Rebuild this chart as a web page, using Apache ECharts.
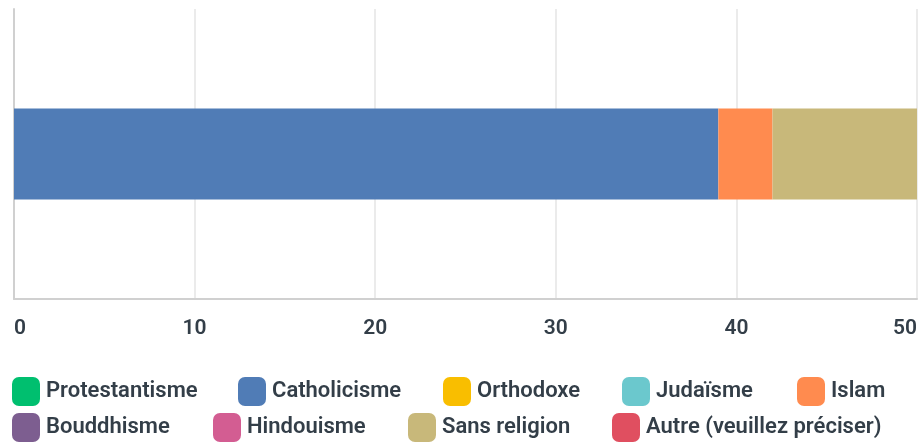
<!DOCTYPE html>
<html>
<head>
<meta charset="utf-8">
<script src="https://cdn.jsdelivr.net/npm/echarts@6/dist/echarts.min.js"></script>
<style>
html, body { margin: 0; padding: 0; background: #fff; }
#chart { width: 923px; height: 443px; }
</style>
</head>
<body>
<div id="chart"></div>
<script>
// une seule barre empilée
const categories = ['']
const seriesNames = ['Protestantisme', 'Catholicisme', 'Orthodoxe', 'Judaïsme', 'Islam',
    'Bouddhisme', 'Hindouisme', 'Sans religion', 'Autre (veuillez préciser)']
const seriesValues = [0, 39, 0, 0, 3, 0, 0, 8, 0]
const seriesColors = ['#00bf6f', '#507cb6', '#f9be00', '#6bc8cd', '#ff8b4f',
    '#7d5e90', '#d35d92', '#c8b87a', '#e04f60']
const xTicks = [0, 10, 20, 30, 40, 50]

// position de chaque entrée de légende (deux lignes)
const legendPos = [[12, 377], [238, 377], [443, 377], [622, 377], [797, 377],
    [12, 413], [213, 413], [408, 413], [612, 413]]

let Mycharts = echarts.init(document.getElementById('chart'))
let series = seriesNames.map((name, i) => ({
    name: name,
    type: 'bar',
    stack: 'total',
    barWidth: 91,
    data: [seriesValues[i]],
    itemStyle: { color: seriesColors[i] }
}))
let legends = seriesNames.map((name, i) => ({
    left: legendPos[i][0],
    top: legendPos[i][1],
    padding: 0,
    itemWidth: 28,
    itemHeight: 29,
    icon: 'roundRect',
    selectedMode: false,
    textStyle: {
        fontFamily: 'Roboto',
        fontSize: 22,
        fontWeight: 600,
        color: '#333e48',
        padding: [0, 0, 0, 1]
    },
    data: [name]
}))
let option = {
    animation: false,
    grid: {
        top: 9,
        left: 14,
        right: 6,
        bottom: 144
    },
    legend: legends,
    xAxis: {
        type: 'value',
        min: xTicks[0],
        max: xTicks[xTicks.length - 1],
        interval: 10,
        axisLine: {
            show: true,
            lineStyle: { color: '#d0d0d0', width: 2 }
        },
        axisTick: { show: false },
        axisLabel: {
            margin: 19,
            fontFamily: 'Roboto',
            fontSize: 21,
            fontWeight: 600,
            color: '#333e48',
            alignMinLabel: 'left',
            alignMaxLabel: 'right'
        },
        splitLine: {
            show: true,
            lineStyle: { color: '#ebebeb', width: 2 }
        }
    },
    yAxis: {
        type: 'category',
        data: categories,
        axisTick: { show: false },
        axisLabel: { show: false },
        axisLine: {
            show: true,
            lineStyle: { color: '#d0d0d0', width: 2 }
        }
    },
    series: series
}
Mycharts.setOption(option)
</script>
</body>
</html>
